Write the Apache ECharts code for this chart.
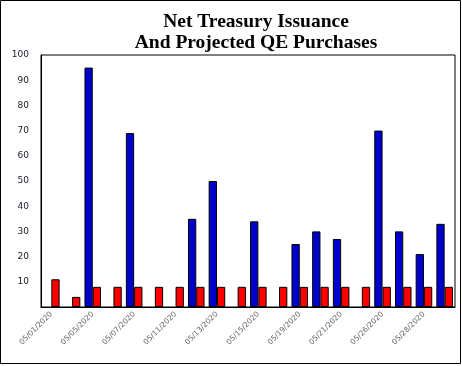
<!DOCTYPE html>
<html><head><meta charset="utf-8">
<script src="https://cdn.jsdelivr.net/npm/echarts@6/dist/echarts.min.js"></script>
<style>html,body{margin:0;padding:0;background:#fff}#c{width:462px;height:366px}</style>
</head><body><div id="c"></div>
<script>
const categories = ['05/01/2020','05/04/2020','05/05/2020','05/06/2020','05/07/2020','05/08/2020','05/11/2020','05/12/2020','05/13/2020','05/14/2020','05/15/2020','05/18/2020','05/19/2020','05/20/2020','05/21/2020','05/22/2020','05/26/2020','05/27/2020','05/28/2020','05/29/2020'];
const issuance = [null,null,95,null,69,null,null,35,50,null,34,null,25,30,27,null,70,30,21,33];
const qePurchases = [11,4,8,8,8,8,8,8,8,8,8,8,8,8,8,8,8,8,8,8];
const yTicks = [0,10,20,30,40,50,60,70,80,90,100];

const chart = echarts.init(document.getElementById('c'), null, {renderer:'canvas'});
chart.setOption({
  animation:false,
  backgroundColor:'#fff',
  title:{
    text:'Net Treasury Issuance\nAnd Projected QE Purchases',
    left:251, top:7, textAlign:'center',
    textStyle:{fontFamily:'Liberation Serif', fontWeight:'bold', fontSize:19.5, lineHeight:20.5, color:'#000'}
  },
  graphic:[{type:'rect', shape:{x:0.5,y:0.5,width:460,height:363}, style:{fill:'none', stroke:'#000', lineWidth:1}, silent:true}],
  grid:{left:41, right:7, top:55, bottom:59, show:true, borderColor:'#000', borderWidth:1, backgroundColor:'transparent'},
  xAxis:{
    type:'category', data:categories,
    axisLine:{lineStyle:{color:'#000', width:1}},
    axisTick:{show:false},
    axisLabel:{interval:1, rotate:45, margin:6, fontFamily:'DejaVu Sans', fontSize:7.5, color:'#666'}
  },
  yAxis:{
    type:'value', min:yTicks[0], max:yTicks[yTicks.length-1], interval:10,
    splitLine:{show:false},
    axisLine:{show:true, lineStyle:{color:'#000'}},
    axisTick:{show:false},
    axisLabel:{showMinLabel:false, margin:12, fontFamily:'DejaVu Sans', fontSize:9, color:'#1a1a2a'}
  },
  series:[
    {type:'bar', name:'Net Treasury Issuance', data:issuance, barGap:'0%', barCategoryGap:'20%',
     itemStyle:{color:'#0000CC', borderColor:'#000', borderWidth:1}},
    {type:'bar', name:'Projected QE Purchases', data:qePurchases, barGap:'0%', barCategoryGap:'20%',
     itemStyle:{color:'#FF0000', borderColor:'#000', borderWidth:1}}
  ]
});
</script></body></html>
